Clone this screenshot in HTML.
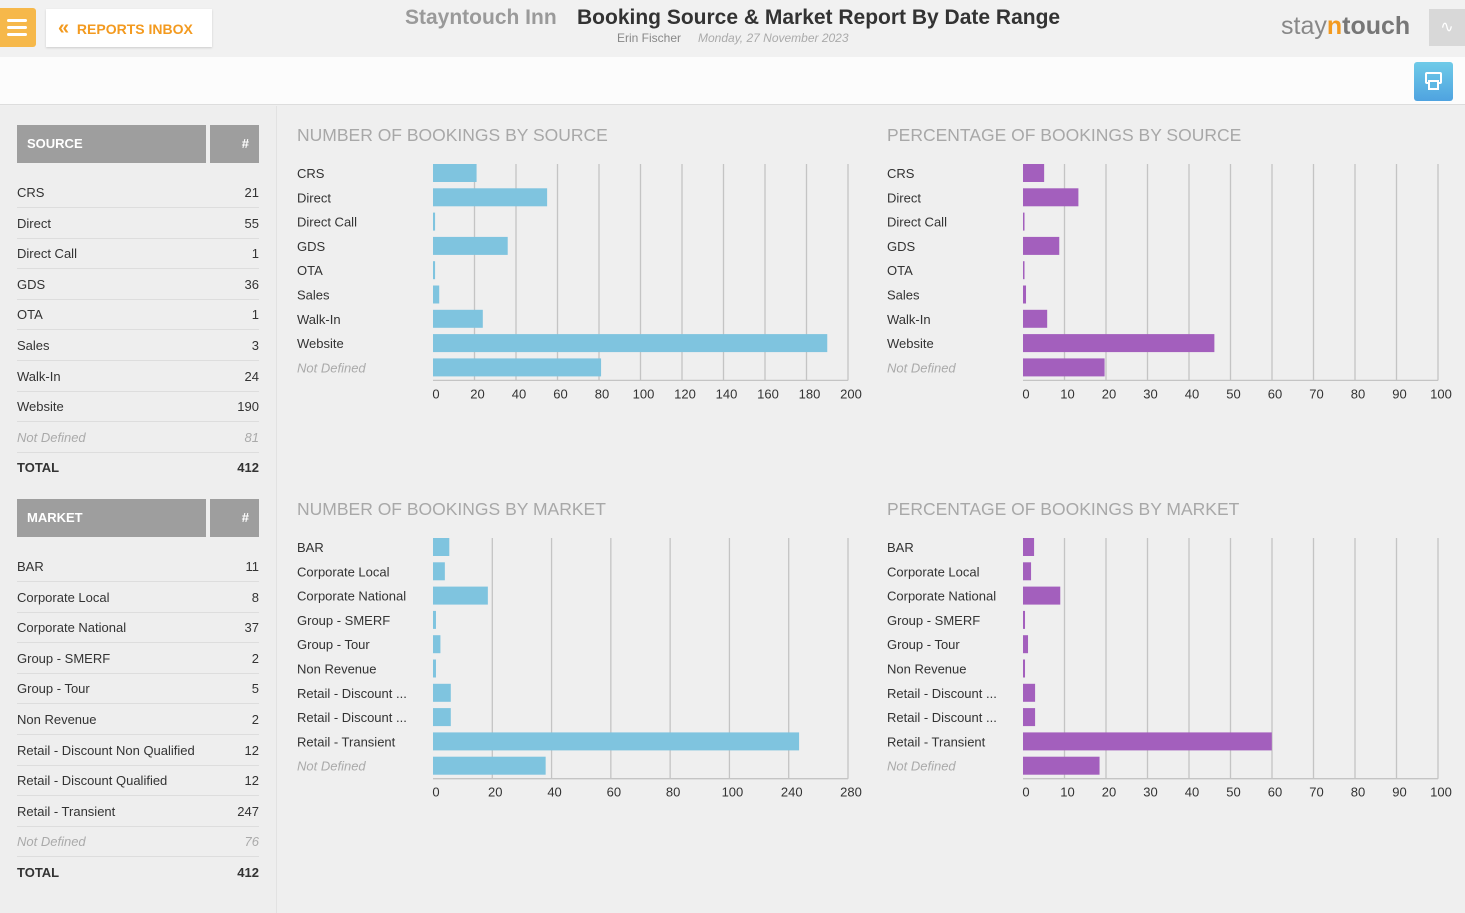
<!DOCTYPE html>
<html><head><meta charset="utf-8">
<style>
*{box-sizing:border-box;margin:0;padding:0}
body{width:1465px;height:913px;overflow:hidden;background:#efefef;font-family:"Liberation Sans",sans-serif;color:#333;position:relative}
.abs{position:absolute}
#header{left:0;top:0;width:1465px;height:57px;background:#f1f1f1}
#toolbar{left:0;top:57px;width:1465px;height:48px;background:#fcfcfc;border-bottom:1px solid #ddd}
#sidebar{left:0;top:106px;width:277px;height:807px;background:#eeeeee;border-right:1px solid #e2e2e2}
.th{background:#9e9e9e;color:#fff;font-weight:bold;font-size:13px;height:38px;line-height:38px}
.row{position:absolute;left:17px;width:242px;height:30px;font-size:13px;border-bottom:1px solid #ddd;line-height:30px}
.row span{position:absolute;right:0}
.it{color:#aaa;font-style:italic}
.tot{font-weight:bold;border-bottom:none}
</style></head><body>
<div id="header" class="abs">
 <div class="abs" style="left:0;top:8px;width:36px;height:39px;background:#f6b84a;border-radius:0 3px 3px 0">
  <div class="abs" style="left:7px;top:11px;width:20px;height:3px;background:#fff;border-radius:2px"></div>
  <div class="abs" style="left:7px;top:18px;width:20px;height:3px;background:#fff;border-radius:2px"></div>
  <div class="abs" style="left:7px;top:25px;width:20px;height:3px;background:#fff;border-radius:2px"></div>
 </div>
 <div class="abs" style="left:46px;top:9px;width:166px;height:38px;background:#fff;box-shadow:0 1px 2px #ccc;color:#f39a1f;font-weight:bold;font-size:14px;line-height:38px;padding-left:12px"><span style="font-size:20px">&#171;</span>&nbsp; REPORTS INBOX</div>
 <div class="abs" style="left:405px;top:6px;font-size:21px;font-weight:bold;color:#9a9a9a">Stayntouch Inn</div>
 <div class="abs" style="left:577px;top:6px;font-size:21px;font-weight:bold;color:#333">Booking Source &amp; Market Report By Date Range</div>
 <div class="abs" style="left:617px;top:31px;font-size:12px;color:#888">Erin Fischer</div>
 <div class="abs" style="left:698px;top:31px;font-size:12px;color:#aaa;font-style:italic">Monday, 27 November 2023</div>
 <div class="abs" style="left:1281px;top:12px;font-size:25px;color:#888">stay<b style="color:#f39a1f">n</b><b style="color:#777">touch</b></div>
 <div class="abs" style="left:1429px;top:9px;width:36px;height:37px;background:#d8d8d8;color:#fff;text-align:center;line-height:37px;font-size:16px">∿</div>
</div>
<div id="toolbar" class="abs">
 <div class="abs" style="left:1414px;top:5px;width:39px;height:39px;background:linear-gradient(#6fcbe8,#4fa3e0);border-radius:3px">
  <div class="abs" style="left:11px;top:10px;width:17px;height:12px;border:2px solid #fff;border-radius:2px"></div>
  <div class="abs" style="left:14px;top:18px;width:11px;height:10px;border:2px solid #fff;background:#5db8e4"></div>
 </div>
</div>
<div id="sidebar" class="abs"></div>
<div id="tables"></div>
<svg id="charts" class="abs" style="left:0;top:0" width="1465" height="913"></svg>
<script>
const sourceCats=["CRS","Direct","Direct Call","GDS","OTA","Sales","Walk-In","Website","Not Defined"];
const sourceVals=[21,55,1,36,1,3,24,190,81];
const marketCats=["BAR","Corporate Local","Corporate National","Group - SMERF","Group - Tour","Non Revenue","Retail - Discount Non Qualified","Retail - Discount Qualified","Retail - Transient","Not Defined"];
const marketVals=[11,8,37,2,5,2,12,12,247,76];
const sourceTicks=["0","20","40","60","80","100","120","140","160","180","200"];
const marketTicks=["0","20","40","60","80","100","240","280"];
const pctTicks=["0","10","20","30","40","50","60","70","80","90","100"];
const sourceTotal=412, marketTotal=412;

const T=document.getElementById('tables');
function table(name,y0,cats,vals,total){
  const h=document.createElement('div');h.className='abs th';h.style.cssText=`left:17px;top:${y0}px;width:189px;padding-left:10px`;h.textContent=name;
  
  T.appendChild(h);
  const h2=document.createElement('div');h2.className='abs th';h2.style.cssText=`left:210px;top:${y0}px;width:49px;text-align:right;padding-right:10px`;h2.textContent='#';
  
  T.appendChild(h2);
  const all=cats.map((c,i)=>[c,vals[i]]).concat([["TOTAL",total]]);
  all.forEach((r,i)=>{const d=document.createElement('div');
    d.className='row'+(r[0]=='Not Defined'?' it':'')+(r[0]=='TOTAL'?' tot':'');
    d.style.top=(y0+53+i*30.6)+'px';d.innerHTML=r[0]+'<span>'+r[1]+'</span>';
    
    T.appendChild(d);});
}
table('SOURCE',125,sourceCats,sourceVals,sourceTotal);
table('MARKET',499,marketCats,marketVals,marketTotal);

const S=document.getElementById('charts'),NS='http://www.w3.org/2000/svg';
function el(t,a,txt){const e=document.createElementNS(NS,t);for(const k in a)e.setAttribute(k,a[k]);if(txt!=null)e.textContent=txt;S.appendChild(e);return e;}
function chart(title,lx,ty,cats,vals,max,ticks,color){
  const x0=lx+136,W=415,y0=ty+39,step=24.3,axisY=y0+(cats.length-1)*step+13;
  const xs=v=>x0+v/max*W;
  const t=el('text',{x:lx,y:ty+7,'font-size':17.5,fill:'#a8a8a8','font-family':'Liberation Sans'},title);
  
  
  ticks.forEach((lab,i)=>{const gx=x0+i*W/(ticks.length-1);
    if(i>0){const g=el('line',{x1:gx,x2:gx,y1:y0-9,y2:axisY,stroke:'#c4c4c4','stroke-width':1.3});
      
      }
    const tl=el('text',{x:gx+3,y:axisY+18,'font-size':13,'text-anchor':'middle',fill:'#333'},lab);
    
    });
  const ax=el('line',{x1:x0,x2:x0+W,y1:axisY,y2:axisY,stroke:'#c4c4c4','stroke-width':1.3});
  
  
  cats.forEach((c,i)=>{const cy=y0+i*step;let lab=c;if(c.length>20)lab=c.slice(0,17)+' ...';
    const nd=c=='Not Defined';
    const l=el('text',{x:lx,y:cy+5,'font-size':13,fill:nd?'#aaa':'#333','font-style':nd?'italic':'normal'},lab);
    
    
    const w=Math.max(xs(vals[i])-x0,1.5);
    const b=el('rect',{x:x0,y:cy-9,width:w,height:18,fill:color});
    
    });
}
const pct=(v,t)=>v.map(x=>x/t*100);
chart('NUMBER OF BOOKINGS BY SOURCE',297,134,sourceCats,sourceVals,200,sourceTicks,'#7fc4df');
chart('PERCENTAGE OF BOOKINGS BY SOURCE',887,134,sourceCats,pct(sourceVals,sourceTotal),100,pctTicks,'#a35fbd');
chart('NUMBER OF BOOKINGS BY MARKET',297,508,marketCats,marketVals,280,marketTicks,'#7fc4df');
chart('PERCENTAGE OF BOOKINGS BY MARKET',887,508,marketCats,pct(marketVals,marketTotal),100,pctTicks,'#a35fbd');
</script>
</body></html>
